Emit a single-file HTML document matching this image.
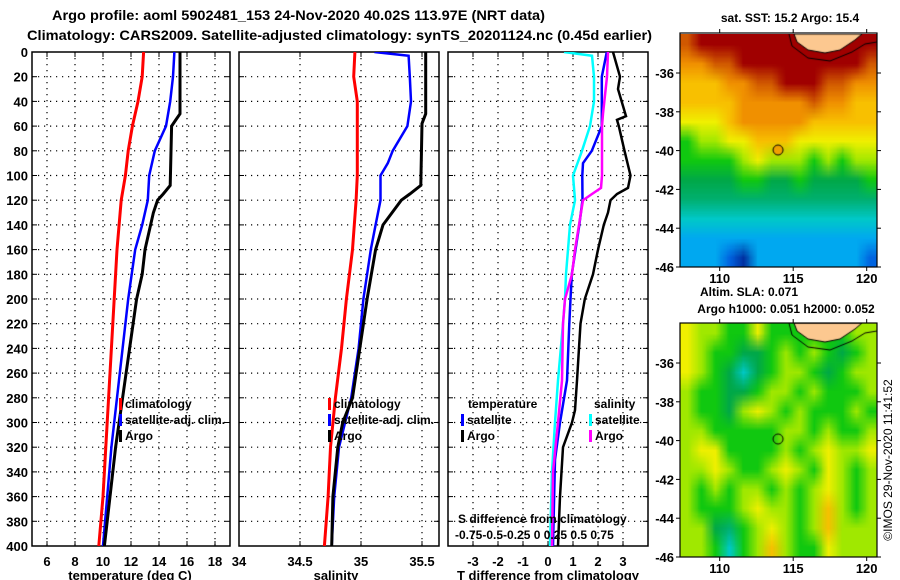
<!DOCTYPE html>
<html><head><meta charset="utf-8"><style>
html,body{margin:0;padding:0;background:#fff;}
#wrap{position:relative;width:900px;height:580px;overflow:hidden;font-family:"Liberation Sans",sans-serif;font-weight:bold;}
canvas{position:absolute;}
svg{position:absolute;left:0;top:0;}
</style></head><body>
<div id="wrap">
<canvas id="sst" width="197" height="233" style="left:680px;top:34px"></canvas>
<canvas id="sla" width="197" height="234" style="left:680px;top:323px"></canvas>
<svg id="fig" width="900" height="580"></svg>
</div>
<script>
// ---- data ----
const tempDepths = [0,20,40,60,80,100,120,160,200,240,280,320,360,400];
const tempClim   = [12.9,12.8,12.5,12.1,11.8,11.6,11.3,11.0,10.8,10.6,10.4,10.2,10.0,9.7];
const tempSatDepths = [0,20,40,60,80,100,120,140,160,200,240,280,320,360,400];
const tempSat    = [15.1,15.0,14.8,14.5,13.7,13.3,13.2,12.8,12.3,11.8,11.4,11.0,10.6,10.3,10.0];
const tempArgoDepths = [0,50,55,60,108,115,120,130,140,160,180,200,240,280,320,360,400];
const tempArgo   = [15.5,15.5,15.2,14.9,14.8,14.3,13.9,13.6,13.4,13.0,12.8,12.4,11.9,11.4,10.9,10.5,10.1];

const salClimDepths = [0,20,40,100,120,160,200,240,280,320,360,400];
const salClim    = [34.95,34.94,34.97,34.97,34.96,34.93,34.88,34.84,34.79,34.75,34.73,34.70];
const salSatDepths = [0,3,20,40,60,80,90,100,120,140,160,200,240,280,320,360,400];
const salSat     = [35.11,35.39,35.40,35.41,35.38,35.26,35.22,35.16,35.16,35.12,35.08,35.02,34.98,34.92,34.82,34.78,34.76];
const salArgoDepths = [0,50,58,108,115,120,140,160,200,240,280,300,320,360,400];
const salArgo    = [35.53,35.53,35.50,35.49,35.40,35.33,35.18,35.12,35.05,34.99,34.93,34.85,34.81,34.77,34.76];

const dTSatDepths = [0,20,40,60,80,90,100,120,140,160,180,200,220,266,300,330,400];
const dTSat      = [2.35,2.15,2.15,2.15,1.75,1.4,1.37,1.38,1.25,1.1,0.95,0.9,0.85,0.76,0.48,0.28,0.2];
const dTArgoDepths = [0,20,30,52,55,60,80,100,110,115,120,130,140,160,180,200,220,266,290,300,320,360,400];
const dTArgo     = [2.6,2.88,2.8,3.12,2.76,2.83,3.06,3.3,3.2,2.76,2.5,2.4,2.23,2.0,1.8,1.47,1.3,1.16,1.08,0.96,0.6,0.48,0.4];
const dSSatDepths = [0,3,20,40,60,80,100,120,140,160,180,200,220,266,300,340,400];
const dSSat      = [0.16,0.44,0.46,0.46,0.42,0.34,0.25,0.27,0.22,0.2,0.18,0.17,0.15,0.1,0.07,0.04,0.02];
const dSArgoDepths = [0,20,50,60,100,110,115,120,140,160,180,200,220,266,300,340,400];
const dSArgo     = [0.6,0.59,0.55,0.54,0.54,0.53,0.44,0.35,0.31,0.27,0.24,0.17,0.15,0.14,0.1,0.05,0.04];

const depthTicks = [0,20,40,60,80,100,120,140,160,180,200,220,240,260,280,300,320,340,360,380,400];
const tempTicks = [6,8,10,12,14,16,18];
const salTicks = [34,34.5,35,35.5];
const dTTicks = [-3,-2,-1,0,1,2,3];
const lonTicks = [110,115,120];
const latTicks = [-36,-38,-40,-42,-44,-46];

// ---- scales ----
const yD = d => 52 + d*1.235;
const xT = t => 47 + (t-6)*14;
const xS = s => 239 + (s-34)*122;
const xD = t => 548 + t*25;
const xSD = s => 548 + s*100;
const NS = "http://www.w3.org/2000/svg";
const svg = document.getElementById('fig');
function mk(tag, attrs, parent){
  const e = document.createElementNS(NS, tag);
  for (const k in attrs) e.setAttribute(k, attrs[k]);
  (parent||svg).appendChild(e); return e;
}
function txt(x,y,s,anchor,size,name){
  const e = mk('text',{x:x,y:y,'text-anchor':anchor||'start','font-size':size||13,'font-weight':'bold','font-family':'Liberation Sans, sans-serif',fill:'#000'});
  e.textContent = s;
  
  
  return e;
}
function line(xs, ys, color, w, name, clip){
  const pts = xs.map((v,i)=>v.toFixed(1)+','+ys[i].toFixed(1)).join(' ');
  const e = mk('polyline',{points:pts,fill:'none',stroke:color,'stroke-width':w,'stroke-linejoin':'miter','clip-path':clip});
  
  
}
const defs = mk('defs',{});
function panel(x0,x1,vgrid,name){
  const id = 'c'+name;
  const cp = mk('clipPath',{id:id},defs);
  mk('rect',{x:x0,y:52,width:x1-x0,height:494},cp);
  const g = mk('g',{});
  
  
  vgrid.forEach(x=>mk('line',{x1:x,y1:52,x2:x,y2:546,stroke:'#000','stroke-width':1.2,'stroke-dasharray':'1.2 4.8'},g));
  depthTicks.slice(1,-1).forEach(d=>{
    mk('line',{x1:x0,y1:yD(d),x2:x1,y2:yD(d),stroke:'#000','stroke-width':1.2,'stroke-dasharray':'1.2 4.8'},g);
    mk('line',{x1:x0,y1:yD(d),x2:x0+5,y2:yD(d),stroke:'#000','stroke-width':1},g);
    mk('line',{x1:x1-5,y1:yD(d),x2:x1,y2:yD(d),stroke:'#000','stroke-width':1},g);
  });
  vgrid.forEach(x=>{mk('line',{x1:x,y1:546,x2:x,y2:541,stroke:'#000'},g);mk('line',{x1:x,y1:52,x2:x,y2:57,stroke:'#000'},g);});
  mk('rect',{x:x0,y:52,width:x1-x0,height:494,fill:'none',stroke:'#000','stroke-width':1.5},g);
  return 'url(#'+id+')';
}
// titles
const t1 = txt(52,20,'Argo profile: aoml 5902481_153 24-Nov-2020 40.02S 113.97E (NRT data)','start',14,'title-line-1');
t1.setAttribute('textLength','493'); t1.setAttribute('lengthAdjust','spacingAndGlyphs');
const t2 = txt(27,40,'Climatology: CARS2009. Satellite-adjusted climatology: synTS_20201124.nc (0.45d earlier)','start',14,'title-line-2');
t2.setAttribute('textLength','625'); t2.setAttribute('lengthAdjust','spacingAndGlyphs');
// depth labels
depthTicks.forEach(d=>txt(28,yD(d)+5,String(d),'end',13,'depth-tick-label'));

// panel 1 temperature
let c1 = panel(32,230,tempTicks.map(xT),'temperature-panel');
tempTicks.forEach(t=>txt(xT(t),566,String(t),'middle',13,'temp-tick-label'));
txt(130,580,'temperature (deg C)','middle',13,'temperature-axis-title');
line(tempClim.map(xT), tempDepths.map(yD), '#f00', 3, 'temp-climatology-line', c1);
line(tempSat.map(xT), tempSatDepths.map(yD), '#00f', 2.5, 'temp-satellite-line', c1);
line(tempArgo.map(xT), tempArgoDepths.map(yD), '#000', 3, 'temp-argo-line', c1);

// panel 2 salinity
let c2 = panel(239,439,salTicks.slice(1).map(xS),'salinity-panel');
salTicks.forEach(s=>txt(xS(s),566,String(s),'middle',13,'salinity-tick-label'));
txt(336,580,'salinity','middle',13,'salinity-axis-title');
line(salClim.map(xS), salClimDepths.map(yD), '#f00', 3, 'sal-climatology-line', c2);
line(salSat.map(xS), salSatDepths.map(yD), '#00f', 2.5, 'sal-satellite-line', c2);
line(salArgo.map(xS), salArgoDepths.map(yD), '#000', 3, 'sal-argo-line', c2);

// legends
function legend(x, y0, items, prefix){
  items.forEach((it,i)=>{
    const y = y0 + i*16;
    const r = mk('rect',{x:x-6,y:y-10,width:3,height:12,fill:it[1]});
    
    
    txt(x,y,it[0],'start',12,prefix+'-label');
  });
}
legend(125,408,[['climatology','#f00'],['satellite-adj. clim.','#00f'],['Argo','#000']],'temp-legend');
legend(334,408,[['climatology','#f00'],['satellite-adj. clim.','#00f'],['Argo','#000']],'sal-legend');

// panel 3 differences
let c3 = panel(448,648,dTTicks.map(xD),'difference-panel');
dTTicks.forEach(t=>txt(xD(t),566,String(t),'middle',13,'tdiff-tick-label'));
txt(548,580,'T difference from climatology','middle',13,'tdiff-axis-title');
line(dSSat.map(xSD), dSSatDepths.map(yD), '#0ff', 2.5, 'sdiff-satellite-line', c3);
line(dTSat.map(xD), dTSatDepths.map(yD), '#00f', 2.5, 'tdiff-satellite-line', c3);
line(dSArgo.map(xSD), dSArgoDepths.map(yD), '#f0f', 2.5, 'sdiff-argo-line', c3);
line(dTArgo.map(xD), dTArgoDepths.map(yD), '#000', 2.5, 'tdiff-argo-line', c3);
txt(468,408,'temperature','start',12,'legend-heading-temperature');
txt(594,408,'salinity','start',12,'legend-heading-salinity');
legend(467,424,[['satellite','#00f'],['Argo','#000']],'tdiff-legend');
legend(595,424,[['satellite','#0ff'],['Argo','#f0f']],'sdiff-legend');
txt(458,523,'S difference from climatology','start',12,'sdiff-axis-title');
txt(455,539,'-0.75-0.5-0.25  0  0.25 0.5 0.75','start',12,'sdiff-tick-labels');

// ---- maps ----
const pal = ['#0030a0','#0064e0','#00a8f0','#00c8c8','#00b070','#00a848','#10c810','#a0e800','#f0f000','#f8c000','#f09000','#d05800','#a00000'];
const sstGrid = [
 [11,12,12,12,12,12,12,12,12,12,12,12,12,12],
 [10,10,11,11,12,12,12,12,12,12,12,12,12,11],
 [9,9,9,10,10,11,11,12,12,12,11,11,10,10],
 [9,9,9,9,10,10,10,10,10,11,10,10,9,9],
 [8,8,8,9,10,10,10,10,10,9,9,9,9,9],
 [6,7,7,8,8,9,9,9,8,8,8,8,8,8],
 [6,6,6,6,7,8,7,7,7,6,7,6,7,7],
 [5,5,5,5,6,6,5,5,6,5,5,5,5,6],
 [4,4,4,4,4,4,4,4,4,4,4,4,4,4],
 [3,3,3,3,3,3,3,3,3,3,3,3,3,3],
 [2,2,2,2,2,2,2,2,2,2,2,2,2,2],
 [2,2,2,1,0,2,2,2,2,2,2,2,2,1]];
const slaGrid = [
 [8,7,7,6,6,8,6,6,6,6,6,6,7,7],
 [8,7,6,6,5,5,6,7,6,7,6,5,6,7],
 [8,7,6,5,3,5,6,7,7,6,5,6,7,7],
 [7,6,6,5,5,6,7,7,6,7,6,6,6,7],
 [7,6,6,5,7,8,7,6,7,6,6,6,7,6],
 [7,7,6,6,6,6,6,7,7,6,7,6,6,7],
 [7,8,8,6,6,6,6,7,6,7,8,7,7,8],
 [7,7,8,7,6,6,7,8,7,6,8,7,6,7],
 [7,6,7,6,7,7,6,7,6,7,8,7,6,7],
 [7,6,6,6,7,8,7,7,6,7,9,7,6,7],
 [7,7,5,4,6,7,8,7,6,7,9,7,7,7],
 [7,7,6,3,6,7,9,7,6,6,8,7,7,7]];
const mx = lon => 680 + (lon-107.3)*14.7;
const my = (lat,top) => top + 40 + (-36-lat)*19.4;
function drawMap(id, grid){
  const cv = document.getElementById(id), ctx = cv.getContext('2d');
  const sm = document.createElement('canvas'); sm.width=14; sm.height=12;
  const sc = sm.getContext('2d');
  grid.forEach((row,r)=>row.forEach((v,c)=>{sc.fillStyle=pal[v];sc.fillRect(c,r,1,1);}));
  ctx.imageSmoothingEnabled = true;
  ctx.drawImage(sm,0,0,cv.width,cv.height);
  ctx.fillStyle='#fcc890'; ctx.strokeStyle='#000'; ctx.lineWidth=1;
  ctx.beginPath(); ctx.moveTo(114,0); ctx.lineTo(117,8); ctx.lineTo(128,16); ctx.lineTo(145,19); ctx.lineTo(160,16); ctx.lineTo(175,6); ctx.lineTo(182,0); ctx.closePath(); ctx.fill(); ctx.stroke();
  ctx.beginPath(); ctx.moveTo(109,0); ctx.lineTo(112,12); ctx.lineTo(128,24); ctx.lineTo(150,27); ctx.lineTo(172,18); ctx.lineTo(185,10); ctx.lineTo(197,8); ctx.stroke();
  ctx.fillStyle = id==='sst' ? '#f0a000' : 'rgba(0,0,0,0)';
  ctx.beginPath(); ctx.arc(mx(113.97)-680, 116, 5, 0, 7); ctx.fill(); ctx.stroke();
}
drawMap('sst', sstGrid); drawMap('sla', slaGrid);
function mapFrame(top, name){
  const g = mk('g',{});  
  mk('rect',{x:680,y:top,width:197,height:267-33+(top===33?0:0),fill:'none',stroke:'#000','stroke-width':1.2},g);
  lonTicks.forEach(l=>{
    mk('line',{x1:mx(l),y1:top-4,x2:mx(l),y2:top,stroke:'#000'},g);
    mk('line',{x1:mx(l),y1:top+234,x2:mx(l),y2:top+238,stroke:'#000'},g);
    txt(mx(l),top+250,String(l),'middle',13,'lon-tick-label');
  });
  latTicks.forEach(l=>{
    const y = my(l,top);
    mk('line',{x1:877,y1:y,x2:881,y2:y,stroke:'#000'},g);
    mk('line',{x1:676,y1:y,x2:680,y2:y,stroke:'#000'},g);
    txt(674,y+5,String(l),'end',13,'lat-tick-label');
  });
}
mapFrame(33,'sst-map-frame'); mapFrame(323,'sla-map-frame');
txt(790,22,'sat. SST: 15.2 Argo: 15.4','middle',12,'sst-map-title');
txt(700,296,'Altim. SLA: 0.071','start',12,'sla-map-title');
txt(786,313,'Argo h1000: 0.051 h2000: 0.052','middle',12,'argo-height-title');
const cr = txt(0,0,'©IMOS 29-Nov-2020 11:41:52','middle',12,'imos-credit');
cr.setAttribute('font-weight','normal');
cr.setAttribute('transform','translate(892,460) rotate(-90)');
</script>
</body></html>
